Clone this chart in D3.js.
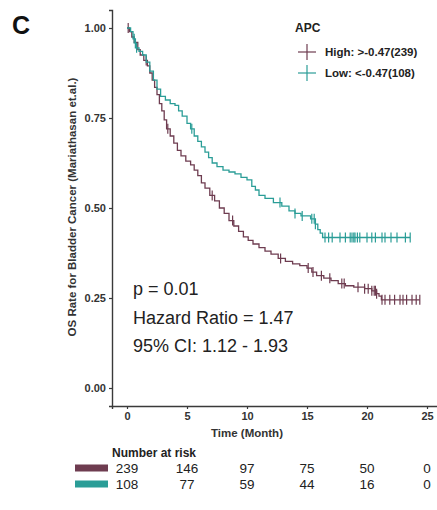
<!DOCTYPE html>
<html>
<head>
<meta charset="utf-8">
<script src="https://cdn.jsdelivr.net/npm/d3@7"></script>
<style>
  body { margin: 0; background: #fff; }
  svg { display: block; font-family: "Liberation Sans", Arial, sans-serif; }
</style>
</head>
<body>
<div id="graph"></div>
<script>
// KM steps: [month, survival]
var highSteps = [
  [0, 1], [0.2, 0.99], [0.4, 0.975], [0.6, 0.96], [0.9, 0.94], [1.1, 0.925], [1.4, 0.91],
  [1.7, 0.895], [1.9, 0.875], [2.1, 0.855], [2.3, 0.835], [2.5, 0.815], [2.7, 0.79],
  [2.9, 0.77], [3.1, 0.745], [3.3, 0.72], [3.6, 0.7], [3.9, 0.68], [4.2, 0.66],
  [4.5, 0.645], [4.9, 0.63], [5.3, 0.62], [5.6, 0.605], [5.9, 0.59], [6.2, 0.57],
  [6.5, 0.555], [6.9, 0.535], [7.3, 0.52], [7.7, 0.5], [8.1, 0.485], [8.5, 0.465],
  [8.9, 0.45], [9.3, 0.435], [9.7, 0.42], [10.1, 0.41], [10.5, 0.4], [11, 0.39],
  [11.5, 0.38], [12, 0.372], [12.6, 0.36], [13.2, 0.352], [13.8, 0.345], [14.4, 0.34],
  [15, 0.333], [15.4, 0.322], [15.8, 0.312], [16.4, 0.305], [17, 0.298], [17.6, 0.29],
  [18.2, 0.284], [18.9, 0.28], [19.8, 0.276], [20.4, 0.27], [20.8, 0.262], [21, 0.255],
  [21.2, 0.245], [24.4, 0.245]
];
var lowSteps = [
  [0, 1], [0.3, 0.99], [0.5, 0.97], [0.7, 0.945], [1, 0.935], [1.3, 0.925], [1.6, 0.905],
  [1.9, 0.88], [2.2, 0.855], [2.5, 0.83], [2.8, 0.81], [3.2, 0.8], [3.6, 0.79],
  [4, 0.785], [4.3, 0.77], [4.6, 0.755], [5, 0.735], [5.3, 0.72], [5.6, 0.7],
  [5.9, 0.685], [6.2, 0.67], [6.5, 0.655], [6.8, 0.64], [7.1, 0.625], [7.5, 0.615],
  [8, 0.605], [8.5, 0.6], [9, 0.595], [9.5, 0.585], [10, 0.578], [10.4, 0.56],
  [10.7, 0.55], [11, 0.535], [11.5, 0.527], [12.2, 0.515], [12.9, 0.505], [13.5, 0.492],
  [14, 0.485], [14.5, 0.478], [15.3, 0.47], [15.7, 0.455], [15.9, 0.44], [16.1, 0.43],
  [16.3, 0.418], [23.6, 0.418]
];
var highCensor = [0.1, 1.6, 3.4, 7.1, 8.8, 12.8, 15.1, 15.5, 16.2, 16.9, 17.9, 18.1,
  19.25, 19.8, 20.1, 20.4, 20.6, 20.7, 20.8, 21.25, 21.5, 21.9, 22.3, 22.75, 23,
  23.3, 23.75, 24.1, 24.4];
var lowCensor = [0.6, 0.8, 5.4, 12.75, 14, 14.6, 15.4, 15.6, 15.7, 16.5, 16.8, 17.1,
  17.75, 18.2, 18.6, 18.75, 18.9, 19, 19.2, 19.4, 20, 20.4, 20.7, 21.25, 21.5, 22,
  22.5, 23.2, 23.6];

var groups = ["High: >-0.47(239)", "Low: <-0.47(108)"];
var colors = ["#6e3c50", "#2a9d97"];
var xTicks = [0, 5, 10, 15, 20, 25];
var yTicks = [0, 0.25, 0.5, 0.75, 1];
var riskHigh = [239, 146, 97, 75, 50, 0];
var riskLow = [108, 77, 59, 44, 16, 0];
var statLines = ["p = 0.01", "Hazard Ratio = 1.47", "95% CI: 1.12 - 1.93"];

var W = 437, H = 510;
var svg = d3.select("#graph").append("svg").attr("width", W).attr("height", H);

var x = d3.scaleLinear().domain([-1.25, 26.25]).range([112, 442]);
var y = d3.scaleLinear().domain([-0.05, 1.05]).range([406, 10]);

var axisCol = "#3a3a3a", textCol = "#222";

// panel label
svg.append("text").attr("x", 12).attr("y", 34)
  .style("font-size", "25px").style("font-weight", "bold").attr("fill", "#111").text("C");

// axes
var gx = svg.append("g").attr("transform", "translate(0,406)")
  .call(d3.axisBottom(x).tickValues(xTicks).tickSize(3).tickPadding(3).tickFormat(d3.format("d")));
var gy = svg.append("g").attr("transform", "translate(112,0)")
  .call(d3.axisLeft(y).tickValues(yTicks).tickSize(3).tickPadding(3).tickFormat(d3.format(".2f")));
[gx, gy].forEach(function(g) {
  g.select(".domain").attr("stroke", axisCol).attr("stroke-width", 1.4);
  g.selectAll(".tick line").attr("stroke", axisCol).attr("stroke-width", 1.2);
  g.selectAll(".tick text").attr("fill", "#333")
    .style("font-size", "11px").style("font-weight", "bold").style("font-family", "Liberation Sans, Arial, sans-serif");
});

svg.append("text").attr("x", x(10)).attr("y", 437).attr("text-anchor", "middle")
  .style("font-size", "11.5px").style("font-weight", "bold").attr("fill", "#333").text("Time (Month)");

svg.append("text").attr("transform", "translate(76,207) rotate(-90)").attr("text-anchor", "middle")
  .style("font-size", "11.5px").style("font-weight", "bold").attr("fill", "#333")
  .text("OS Rate for Bladder Cancer (Mariathasan et.al.)");

// curves
var line = d3.line().curve(d3.curveStepAfter)
  .x(function(d) { return x(d[0]); })
  .y(function(d) { return y(d[1]); });

var series = [
  { steps: highSteps, censor: highCensor, color: colors[0] },
  { steps: lowSteps, censor: lowCensor, color: colors[1] }
];
var bis = d3.bisector(function(d) { return d[0]; }).right;

series.forEach(function(s) {
  svg.append("path").datum(s.steps)
    .attr("d", line).attr("fill", "none").attr("stroke", s.color).attr("stroke-width", 1.3);
  svg.append("g").selectAll("line").data(s.censor).join("line")
    .each(function(t) {
      var v = s.steps[Math.max(0, bis(s.steps, t) - 1)][1];
      d3.select(this).attr("x1", x(t)).attr("x2", x(t))
        .attr("y1", y(v) - 5).attr("y2", y(v) + 5);
    })
    .attr("stroke", s.color).attr("stroke-width", 1.2);
});

// legend
svg.append("text").attr("x", 295).attr("y", 32)
  .style("font-size", "12px").style("font-weight", "bold").attr("fill", "#222").text("APC");
var lg = svg.append("g").selectAll("g").data(groups).join("g")
  .attr("transform", function(d, i) { return "translate(307," + (52 + i * 21) + ")"; });
lg.append("line").attr("x1", -9).attr("x2", 9).attr("stroke", function(d, i) { return colors[i]; }).attr("stroke-width", 1.2);
lg.append("line").attr("y1", -8).attr("y2", 8).attr("stroke", function(d, i) { return colors[i]; }).attr("stroke-width", 1.2);
lg.append("text").attr("x", 18).attr("y", 4)
  .style("font-size", "11.5px").style("font-weight", "bold").attr("fill", "#222").text(function(d) { return d; });

// stats
svg.append("g").selectAll("text").data(statLines).join("text")
  .attr("x", 133).attr("y", function(d, i) { return 295 + i * 28.5; })
  .style("font-size", "18px").attr("fill", textCol).text(function(d) { return d; });

// risk table
svg.append("text").attr("x", 112).attr("y", 457)
  .style("font-size", "12px").style("font-weight", "bold").attr("fill", "#222").text("Number at risk");

[riskHigh, riskLow].forEach(function(row, i) {
  var yy = 468 + i * 16;
  svg.append("rect").attr("x", 75).attr("y", yy - 3.5).attr("width", 33).attr("height", 7)
    .attr("fill", colors[i]);
  svg.append("g").selectAll("text").data(row).join("text")
    .attr("x", function(d, j) { return x(xTicks[j]); }).attr("y", yy + 5)
    .attr("text-anchor", "middle").style("font-size", "13.5px").attr("fill", textCol)
    .text(function(d) { return d; });
});
</script>
</body>
</html>
